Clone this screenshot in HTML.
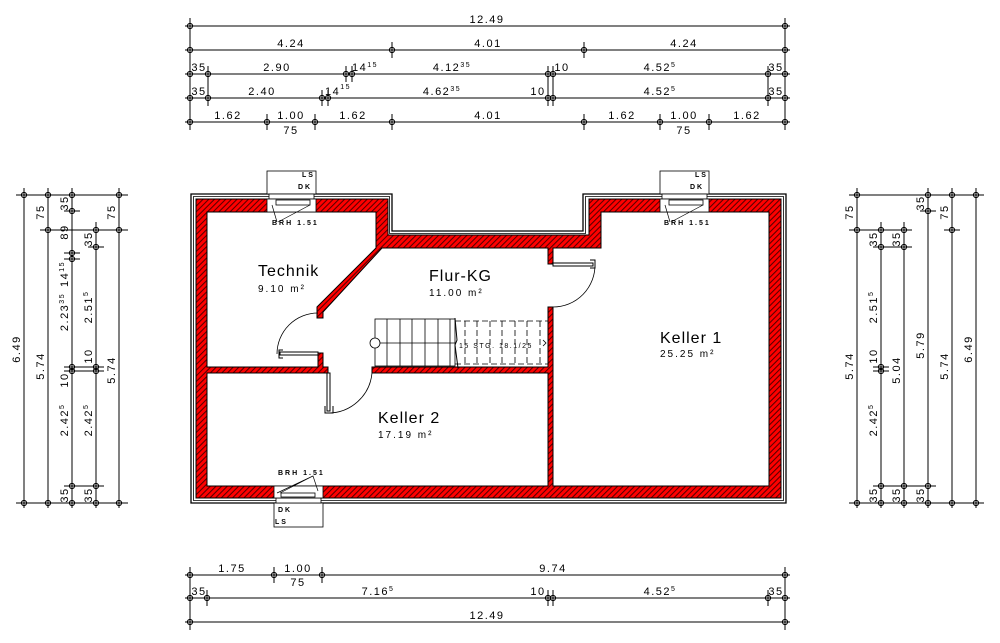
<!DOCTYPE html>
<html><head><meta charset="utf-8"><style>
html,body{margin:0;padding:0;background:#fff;}
svg{display:block;font-family:"Liberation Sans",sans-serif;}
.d{font-size:11px;letter-spacing:1.5px;}
.s{font-size:7px;}
.r{font-size:16px;letter-spacing:1px;}
.a{font-size:10px;letter-spacing:2px;}
.t{font-size:7px;letter-spacing:2px;font-weight:bold;}
</style></head><body>
<svg width="1000" height="643" viewBox="0 0 1000 643" xmlns="http://www.w3.org/2000/svg">
<defs>
<pattern id="h" width="4" height="4" patternUnits="userSpaceOnUse" patternTransform="rotate(45)">
<rect width="4" height="4" fill="#f00"/><line x1="0.5" y1="0" x2="0.5" y2="4" stroke="#500" stroke-width="1.1"/>
</pattern>
<g id="k"><circle r="2.6" fill="none" stroke="#000" stroke-width="1"/><line x1="-4" y1="0" x2="4" y2="0" stroke="#000"/><line x1="0" y1="-4" x2="0" y2="4" stroke="#000"/></g>
</defs>
<g stroke="#000" stroke-width="1" fill="none">
<line x1="185" y1="26" x2="790" y2="26"/><line x1="185" y1="50" x2="790" y2="50"/><line x1="185" y1="74" x2="790" y2="74"/><line x1="185" y1="98" x2="790" y2="98"/><line x1="185" y1="122" x2="790" y2="122"/>
<line x1="190" y1="18" x2="190" y2="130"/><line x1="785" y1="18" x2="785" y2="130"/>
<line x1="392" y1="42" x2="392" y2="58"/><line x1="584" y1="42" x2="584" y2="58"/>
<line x1="208" y1="66" x2="208" y2="106"/><line x1="346" y1="66" x2="346" y2="82"/><line x1="352" y1="66" x2="352" y2="82"/><line x1="548" y1="66" x2="548" y2="106"/><line x1="553" y1="66" x2="553" y2="106"/><line x1="768" y1="66" x2="768" y2="106"/>
<line x1="322" y1="90" x2="322" y2="106"/><line x1="328" y1="90" x2="328" y2="106"/>
<line x1="267" y1="114" x2="267" y2="130"/><line x1="315" y1="114" x2="315" y2="130"/><line x1="392" y1="114" x2="392" y2="130"/><line x1="584" y1="114" x2="584" y2="130"/><line x1="660" y1="114" x2="660" y2="130"/><line x1="709" y1="114" x2="709" y2="130"/>
<line x1="185" y1="575" x2="790" y2="575"/><line x1="185" y1="598" x2="790" y2="598"/><line x1="185" y1="622" x2="790" y2="622"/>
<line x1="190" y1="567" x2="190" y2="630"/><line x1="785" y1="567" x2="785" y2="630"/>
<line x1="274" y1="567" x2="274" y2="583"/><line x1="322" y1="567" x2="322" y2="583"/>
<line x1="207" y1="590" x2="207" y2="606"/><line x1="548" y1="590" x2="548" y2="606"/><line x1="553" y1="590" x2="553" y2="606"/><line x1="768" y1="590" x2="768" y2="606"/>
<line x1="24" y1="188" x2="24" y2="508"/><line x1="48" y1="188" x2="48" y2="508"/><line x1="72" y1="188" x2="72" y2="508"/><line x1="96" y1="222" x2="96" y2="508"/><line x1="119" y1="188" x2="119" y2="508"/>
<line x1="16" y1="195" x2="128" y2="195"/><line x1="16" y1="503" x2="128" y2="503"/>
<line x1="40" y1="230" x2="128" y2="230"/><line x1="64" y1="211" x2="80" y2="211"/><line x1="88" y1="247" x2="104" y2="247"/>
<line x1="64" y1="253" x2="80" y2="253"/><line x1="64" y1="259" x2="80" y2="259"/>
<line x1="64" y1="367" x2="104" y2="367"/><line x1="64" y1="371" x2="104" y2="371"/>
<line x1="64" y1="486" x2="104" y2="486"/>
<line x1="857" y1="188" x2="857" y2="508"/><line x1="881" y1="222" x2="881" y2="508"/><line x1="904" y1="222" x2="904" y2="508"/><line x1="928" y1="188" x2="928" y2="508"/><line x1="952" y1="188" x2="952" y2="508"/><line x1="976" y1="188" x2="976" y2="508"/>
<line x1="849" y1="195" x2="984" y2="195"/><line x1="849" y1="503" x2="984" y2="503"/>
<line x1="849" y1="230" x2="912" y2="230"/><line x1="944" y1="230" x2="960" y2="230"/>
<line x1="873" y1="247" x2="912" y2="247"/><line x1="920" y1="211" x2="936" y2="211"/>
<line x1="873" y1="367" x2="889" y2="367"/><line x1="873" y1="371" x2="889" y2="371"/>
<line x1="873" y1="486" x2="936" y2="486"/>
</g>
<g>
<use href="#k" x="190" y="26"/><use href="#k" x="785" y="26"/>
<use href="#k" x="190" y="50"/><use href="#k" x="392" y="50"/><use href="#k" x="584" y="50"/><use href="#k" x="785" y="50"/>
<use href="#k" x="190" y="74"/><use href="#k" x="208" y="74"/><use href="#k" x="346" y="74"/><use href="#k" x="352" y="74"/><use href="#k" x="548" y="74"/><use href="#k" x="553" y="74"/><use href="#k" x="768" y="74"/><use href="#k" x="785" y="74"/>
<use href="#k" x="190" y="98"/><use href="#k" x="208" y="98"/><use href="#k" x="322" y="98"/><use href="#k" x="328" y="98"/><use href="#k" x="548" y="98"/><use href="#k" x="553" y="98"/><use href="#k" x="768" y="98"/><use href="#k" x="785" y="98"/>
<use href="#k" x="190" y="122"/><use href="#k" x="267" y="122"/><use href="#k" x="315" y="122"/><use href="#k" x="392" y="122"/><use href="#k" x="584" y="122"/><use href="#k" x="660" y="122"/><use href="#k" x="709" y="122"/><use href="#k" x="785" y="122"/>
<use href="#k" x="190" y="575"/><use href="#k" x="274" y="575"/><use href="#k" x="322" y="575"/><use href="#k" x="785" y="575"/>
<use href="#k" x="190" y="598"/><use href="#k" x="207" y="598"/><use href="#k" x="548" y="598"/><use href="#k" x="553" y="598"/><use href="#k" x="768" y="598"/><use href="#k" x="785" y="598"/>
<use href="#k" x="190" y="622"/><use href="#k" x="785" y="622"/>
<use href="#k" x="24" y="195"/><use href="#k" x="24" y="503"/><use href="#k" x="48" y="195"/><use href="#k" x="48" y="230"/><use href="#k" x="48" y="503"/>
<use href="#k" x="72" y="195"/><use href="#k" x="72" y="211"/><use href="#k" x="72" y="253"/><use href="#k" x="72" y="259"/><use href="#k" x="72" y="367"/><use href="#k" x="72" y="371"/><use href="#k" x="72" y="486"/><use href="#k" x="72" y="503"/>
<use href="#k" x="96" y="230"/><use href="#k" x="96" y="247"/><use href="#k" x="96" y="367"/><use href="#k" x="96" y="371"/><use href="#k" x="96" y="486"/><use href="#k" x="96" y="503"/>
<use href="#k" x="119" y="195"/><use href="#k" x="119" y="230"/><use href="#k" x="119" y="503"/>
<use href="#k" x="857" y="195"/><use href="#k" x="857" y="230"/><use href="#k" x="857" y="503"/>
<use href="#k" x="881" y="230"/><use href="#k" x="881" y="247"/><use href="#k" x="881" y="367"/><use href="#k" x="881" y="371"/><use href="#k" x="881" y="486"/><use href="#k" x="881" y="503"/>
<use href="#k" x="904" y="230"/><use href="#k" x="904" y="247"/><use href="#k" x="904" y="486"/><use href="#k" x="904" y="503"/>
<use href="#k" x="928" y="195"/><use href="#k" x="928" y="211"/><use href="#k" x="928" y="486"/><use href="#k" x="928" y="503"/>
<use href="#k" x="952" y="195"/><use href="#k" x="952" y="230"/><use href="#k" x="952" y="503"/>
<use href="#k" x="976" y="195"/><use href="#k" x="976" y="503"/>
</g>
<g class="d" text-anchor="middle">
<text x="487" y="23">12.49</text>
<text x="291" y="47">4.24</text><text x="488" y="47">4.01</text><text x="684" y="47">4.24</text>
<text x="199" y="71">35</text><text x="277" y="71">2.90</text><text x="365" y="71">14<tspan class="s" dy="-4">15</tspan></text><text x="452" y="71">4.12<tspan class="s" dy="-4">35</tspan></text><text x="562" y="71">10</text><text x="660" y="71">4.52<tspan class="s" dy="-4">5</tspan></text><text x="776" y="71">35</text>
<text x="199" y="95">35</text><text x="262" y="95">2.40</text><text x="338" y="95">14<tspan class="s" dy="-6">15</tspan></text><text x="442" y="95">4.62<tspan class="s" dy="-4">35</tspan></text><text x="538" y="95">10</text><text x="660" y="95">4.52<tspan class="s" dy="-4">5</tspan></text><text x="776" y="95">35</text>
<text x="228" y="119">1.62</text><text x="291" y="119">1.00</text><text x="291" y="134">75</text><text x="353" y="119">1.62</text><text x="488" y="119">4.01</text><text x="622" y="119">1.62</text><text x="684" y="119">1.00</text><text x="684" y="134">75</text><text x="747" y="119">1.62</text>
<text x="232" y="572">1.75</text><text x="298" y="572">1.00</text><text x="298" y="586">75</text><text x="553" y="572">9.74</text>
<text x="199" y="595">35</text><text x="378" y="595">7.16<tspan class="s" dy="-4">5</tspan></text><text x="538" y="595">10</text><text x="660" y="595">4.52<tspan class="s" dy="-4">5</tspan></text><text x="776" y="595">35</text>
<text x="487" y="619">12.49</text>
</g>
<g class="d" text-anchor="middle">
<text transform="translate(20,349) rotate(-90)">6.49</text>
<text transform="translate(44,212) rotate(-90)">75</text><text transform="translate(44,366) rotate(-90)">5.74</text>
<text transform="translate(68,203) rotate(-90)">35</text><text transform="translate(68,232) rotate(-90)">89</text><text transform="translate(68,274) rotate(-90)">14<tspan class="s" dy="-4">15</tspan></text><text transform="translate(68,312) rotate(-90)">2.23<tspan class="s" dy="-4">35</tspan></text><text transform="translate(68,380) rotate(-90)">10</text><text transform="translate(68,420) rotate(-90)">2.42<tspan class="s" dy="-4">5</tspan></text><text transform="translate(68,495) rotate(-90)">35</text>
<text transform="translate(92,239) rotate(-90)">35</text><text transform="translate(92,307) rotate(-90)">2.51<tspan class="s" dy="-4">5</tspan></text><text transform="translate(92,356) rotate(-90)">10</text><text transform="translate(92,420) rotate(-90)">2.42<tspan class="s" dy="-4">5</tspan></text><text transform="translate(92,495) rotate(-90)">35</text>
<text transform="translate(115,212) rotate(-90)">75</text><text transform="translate(115,370) rotate(-90)">5.74</text>
<text transform="translate(853,212) rotate(-90)">75</text><text transform="translate(853,366) rotate(-90)">5.74</text>
<text transform="translate(877,239) rotate(-90)">35</text><text transform="translate(877,307) rotate(-90)">2.51<tspan class="s" dy="-4">5</tspan></text><text transform="translate(877,356) rotate(-90)">10</text><text transform="translate(877,420) rotate(-90)">2.42<tspan class="s" dy="-4">5</tspan></text><text transform="translate(877,495) rotate(-90)">35</text>
<text transform="translate(900,239) rotate(-90)">35</text><text transform="translate(900,370) rotate(-90)">5.04</text><text transform="translate(900,495) rotate(-90)">35</text>
<text transform="translate(924,203) rotate(-90)">35</text><text transform="translate(924,345) rotate(-90)">5.79</text><text transform="translate(924,495) rotate(-90)">35</text>
<text transform="translate(948,212) rotate(-90)">75</text><text transform="translate(948,366) rotate(-90)">5.74</text>
<text transform="translate(972,349) rotate(-90)">6.49</text>
</g>
<path d="M191,194 H392 V231 H583 V194 H786 V503 H191 Z" fill="none" stroke="#000" stroke-width="1.3"/>
<path d="M193.5,196.5 H389.5 V233.5 H585.5 V196.5 H783.5 V500.5 H193.5 Z" fill="none" stroke="#000" stroke-width="0.8"/>
<path d="M196,199 H388 V235 H589 V199 H781 V498 H196 Z M207,212 V367 H318 V353 H323 V367 H328 V373 H207 V486 H548 V373 H372 V367 H548 V307 H553 V486 H769 V212 H601 V248 H553 V264 H548 V248 H382 L323,312 V318 H317 V307 L376,248 V212 Z" fill="url(#h)" fill-rule="evenodd" stroke="#000" stroke-width="1"/>
<g stroke="#000" stroke-width="0.8" fill="#fff">
<rect x="267" y="171" width="49" height="23"/><rect x="269" y="194" width="45" height="5"/><rect x="267" y="199" width="49" height="13"/><rect x="276" y="200" width="34" height="5"/>
<rect x="660" y="171" width="49" height="23"/><rect x="662" y="194" width="45" height="5"/><rect x="660" y="199" width="49" height="13"/><rect x="669" y="200" width="34" height="5"/>
<rect x="274" y="503" width="49" height="24"/><rect x="276" y="498" width="45" height="5"/><rect x="274" y="486" width="49" height="12"/><rect x="281" y="493" width="34" height="4"/>
</g>
<g stroke="#000" stroke-width="0.7" fill="none">
<path d="M272,205 L277,222 M310,205 L278,222"/><path d="M665,205 L670,222 M703,205 L671,222"/><path d="M280,493 L313,476 L318,491 M313,476 L277,493"/>
</g>
<g class="t">
<text x="302" y="177">LS</text><text x="298" y="189">DK</text><text x="272" y="225">BRH 1.51</text>
<text x="695" y="177">LS</text><text x="690" y="189">DK</text><text x="664" y="225">BRH 1.51</text>
<text x="278" y="475">BRH 1.51</text><text x="278" y="512">DK</text><text x="275" y="524">LS</text>
</g>
<g stroke="#000" fill="none">
<path d="M318,313 A41,41 0 0 0 277,354" stroke-width="0.8"/>
<rect x="280" y="352" width="38" height="3" fill="#fff" stroke-width="1"/>
<path d="M283,350 h-4 v8 h4" stroke-width="1"/>
<path d="M595,264 A42,42 0 0 1 553,307" stroke-width="0.8"/>
<rect x="553" y="263" width="40" height="3" fill="#fff" stroke-width="1"/>
<path d="M590,260 h5 v8 h-5" stroke-width="1"/>
<path d="M328,413 A44,44 0 0 0 372,373" stroke-width="0.8"/>
<rect x="327" y="373" width="3" height="38" fill="#fff" stroke-width="1"/>
<path d="M325,406 v7 h8 v-7" stroke-width="1"/>
</g>
<g stroke="#000" stroke-width="0.8" fill="none">
<rect x="375" y="319" width="80" height="47"/>
<line x1="375" y1="343" x2="455" y2="343"/>
<line x1="387" y1="319" x2="387" y2="366"/><line x1="400" y1="319" x2="400" y2="366"/><line x1="412" y1="319" x2="412" y2="366"/><line x1="425" y1="319" x2="425" y2="366"/><line x1="438" y1="319" x2="438" y2="366"/><line x1="450" y1="319" x2="450" y2="366"/>
<circle cx="375" cy="343" r="5" fill="#fff"/>
<g stroke-dasharray="6,3">
<line x1="455" y1="321" x2="548" y2="321"/><line x1="455" y1="364" x2="548" y2="364"/>
<line x1="465" y1="321" x2="465" y2="364"/><line x1="477" y1="321" x2="477" y2="364"/><line x1="490" y1="321" x2="490" y2="364"/><line x1="502" y1="321" x2="502" y2="364"/><line x1="515" y1="321" x2="515" y2="364"/><line x1="527" y1="321" x2="527" y2="364"/><line x1="540" y1="321" x2="540" y2="364"/>
</g>
<path d="M455,318 L457,340 L455,345 L458,368" stroke-width="1"/>
<path d="M543,340 L546,343 L543,346"/>
</g>
<text x="459" y="348" class="s" style="letter-spacing:1.5px">15 STG. 18.1/25</text>
<text x="258" y="276" class="r">Technik</text><text x="258" y="292" class="a">9.10 m²</text>
<text x="429" y="281" class="r">Flur-KG</text><text x="429" y="296" class="a">11.00 m²</text>
<text x="660" y="343" class="r">Keller 1</text><text x="660" y="357" class="a">25.25 m²</text>
<text x="378" y="423" class="r">Keller 2</text><text x="378" y="438" class="a">17.19 m²</text>
</svg>
</body></html>
